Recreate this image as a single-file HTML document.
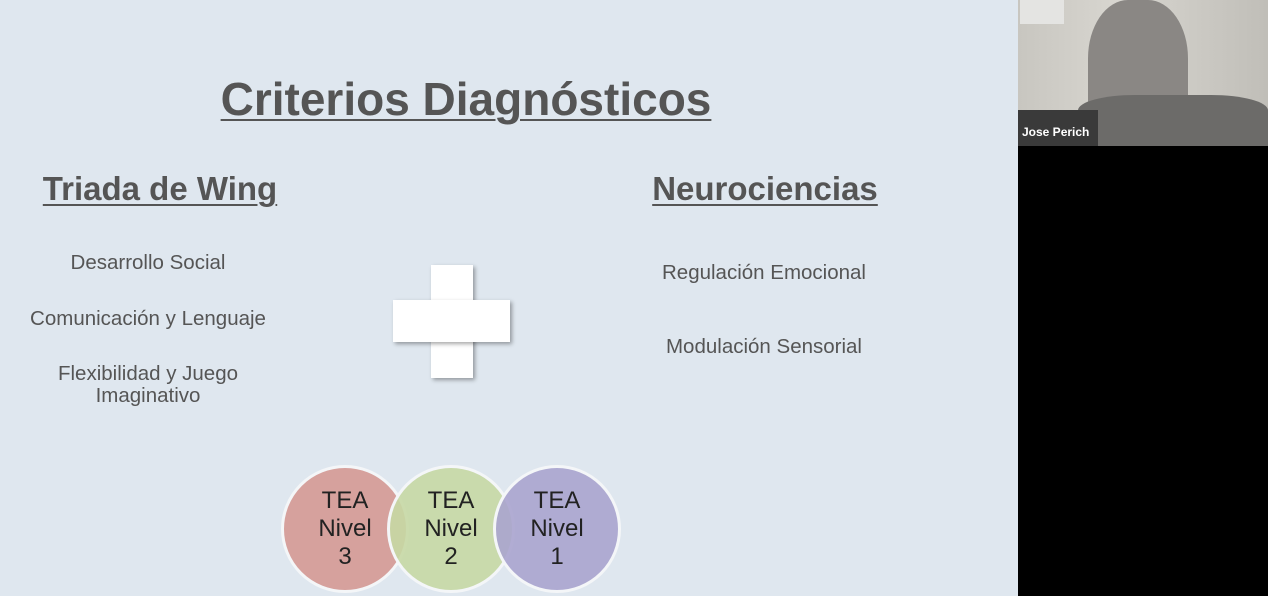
<!DOCTYPE html>
<html><head><style>
body{margin:0;width:1268px;height:596px;background:#000;position:relative;overflow:hidden;font-family:"Liberation Sans",sans-serif}
#slide{position:absolute;left:0;top:0;width:1018px;height:596px;background:#dfe7ef}
.t{position:absolute;color:#555;text-align:center;white-space:nowrap}
.h{font-weight:bold;text-decoration:underline;text-decoration-thickness:2px;text-underline-offset:4px}
.s{font-size:20.5px;color:#555}
.c{position:absolute;width:128px;height:128px;border-radius:50%;border:3px solid #f4f6f8;box-sizing:border-box;display:flex;align-items:center;justify-content:center;text-align:center;font-size:24px;line-height:28px;color:#222}
</style></head><body>
<div id="slide">
<div class="t h" style="left:216px;top:72px;width:500px;font-size:46px">Criterios Diagnósticos</div>
<div class="t h" style="left:30px;top:170px;width:260px;font-size:33px">Triada de Wing</div>
<div class="t h" style="left:635px;top:170px;width:260px;font-size:33px">Neurociencias</div>
<div class="t s" style="left:18px;top:251px;width:260px">Desarrollo Social</div>
<div class="t s" style="left:18px;top:307px;width:260px">Comunicación y Lenguaje</div>
<div class="t s" style="left:18px;top:363px;width:260px;white-space:normal;line-height:22px">Flexibilidad y Juego<br>Imaginativo</div>
<div class="t s" style="left:634px;top:261px;width:260px">Regulación Emocional</div>
<div class="t s" style="left:634px;top:335px;width:260px">Modulación Sensorial</div>
<div style="position:absolute;left:431px;top:265px;width:42px;height:113px;background:#fff;box-shadow:2px 2px 4px rgba(0,0,0,.35)"></div>
<div style="position:absolute;left:393px;top:300px;width:117px;height:42px;background:#fff;box-shadow:2px 2px 4px rgba(0,0,0,.35)"></div>
<div style="position:absolute;left:431px;top:300px;width:42px;height:42px;background:#fff"></div>
<div class="c" style="left:281px;top:465px;background:#d6a19d">TEA<br>Nivel<br>3</div>
<div class="c" style="left:387px;top:465px;background:rgba(198,216,164,.9)">TEA<br>Nivel<br>2</div>
<div class="c" style="left:493px;top:465px;background:rgba(170,164,206,.9)">TEA<br>Nivel<br>1</div>
</div>
<div style="position:absolute;left:1018px;top:0;width:250px;height:146px;background:linear-gradient(90deg,#c8c6c0,#d8d6d0 40%,#c0beb8)">
<div style="position:absolute;left:2px;top:0;width:44px;height:24px;background:#e4e4e2"></div>
<div style="position:absolute;left:70px;top:0;width:100px;height:146px;background:#8a8784;border-radius:40% 40% 10% 10%"></div>
<div style="position:absolute;left:60px;top:95px;width:190px;height:51px;background:#6c6b69;border-radius:30% 30% 0 0"></div>
<div style="position:absolute;left:0;top:110px;width:80px;height:36px;background:#3a3a3a"></div>
<div style="position:absolute;left:4px;top:125px;color:#fff;font-size:12px;font-weight:bold">Jose Perich</div>
</div>
</body></html>
